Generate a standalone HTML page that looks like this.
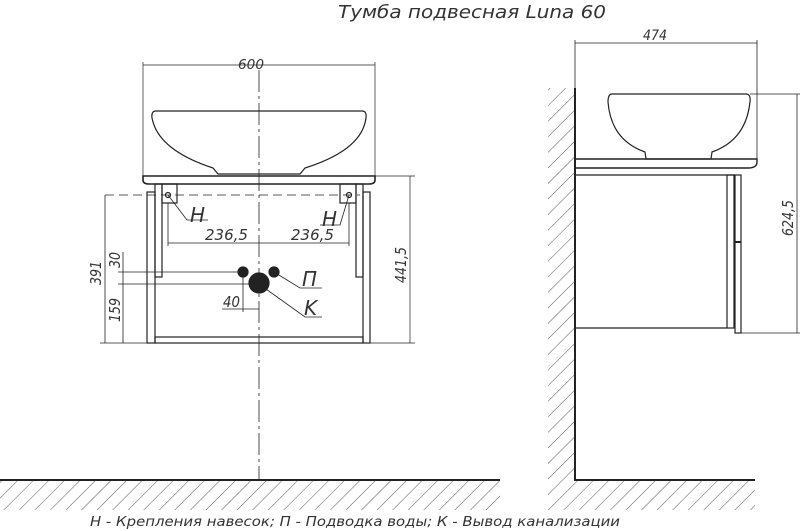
<!DOCTYPE html>
<html><head><meta charset="utf-8"><style>
html,body{margin:0;padding:0;background:#fff}
svg{display:block}
text{font-family:"DejaVu Sans","Liberation Sans",sans-serif;font-style:italic;fill:#333}
</style></head><body>
<svg width="800" height="531" viewBox="0 0 800 531" xmlns="http://www.w3.org/2000/svg">
<defs>
<pattern id="h" width="11" height="11" patternUnits="userSpaceOnUse" patternTransform="rotate(45)">
<line x1="0" y1="0" x2="0" y2="11" stroke="#444" stroke-width="0.9"/>
</pattern>
</defs>
<text x="338" y="18" font-size="18" textLength="268" lengthAdjust="spacingAndGlyphs">Тумба подвесная Luna 60</text>

<rect x="0" y="481" width="500" height="29" fill="url(#h)"/>
<rect x="548" y="88" width="27" height="422" fill="url(#h)"/>
<rect x="575" y="481" width="180" height="29" fill="url(#h)"/>
<line x1="0" y1="480" x2="500" y2="480" stroke="#222" stroke-width="2"/>
<polyline points="575,88 575,480 755,480" fill="none" stroke="#222" stroke-width="2"/>

<g stroke="#222" fill="none" stroke-width="1.2">
<line x1="259" y1="70" x2="259" y2="480" stroke-width="0.8" stroke-dasharray="22,4,3,4"/>
<g stroke-width="0.7"><line x1="143" y1="62" x2="143" y2="178"/><line x1="375" y1="62" x2="375" y2="178"/><line x1="143" y1="65" x2="375" y2="65"/>
<line x1="375" y1="176" x2="415" y2="176"/><line x1="410" y1="176" x2="410" y2="343"/><line x1="370" y1="343" x2="415" y2="343"/></g>
<path d="M156,111 L362,111 Q367,111 366,118 Q362,150 305,168 L300,174 L218,174 L213,168 Q158,150 152,118 Q151,111 156,111 Z"/>
<path d="M143,176 L375,176 L375,180 Q375,184 369,184 L149,184 Q143,184 143,180 Z" stroke-width="1.6"/>
<rect x="147" y="192" width="8" height="151"/>
<rect x="363" y="192" width="7" height="151"/>
<rect x="155" y="184" width="7" height="93"/>
<rect x="356" y="184" width="7" height="93"/>
<rect x="155" y="337" width="208" height="6"/>
<rect x="162" y="184" width="15" height="19"/>
<rect x="340" y="184" width="16" height="19"/>
<circle cx="168" cy="195" r="2.5"/><circle cx="349" cy="195" r="2.5"/>
<line x1="105" y1="195" x2="360" y2="195" stroke-width="0.8" stroke-dasharray="9,5"/>
<g stroke-width="0.8">
<polyline points="168,195 187,220 208,220"/>
<polyline points="349,195 340,225 320,225"/>
<line x1="168" y1="203" x2="168" y2="246"/><line x1="349" y1="203" x2="349" y2="246"/>
<line x1="168" y1="243" x2="349" y2="243"/>
<line x1="105" y1="195" x2="105" y2="343"/><line x1="100" y1="343" x2="155" y2="343"/>
<line x1="123" y1="252" x2="123" y2="343"/>
<line x1="118" y1="272" x2="243" y2="272"/><line x1="118" y1="284" x2="259" y2="284"/>
<line x1="243" y1="272" x2="243" y2="312"/>
<line x1="222" y1="309" x2="259" y2="309"/>
<polyline points="274,272 300,288 322,288"/>
<polyline points="259,284 305,317 322,317"/>
<line x1="575" y1="40" x2="575" y2="88"/><line x1="757" y1="40" x2="757" y2="162"/>
<line x1="575" y1="43" x2="757" y2="43"/>
<line x1="750" y1="94" x2="800" y2="94"/><line x1="741" y1="333" x2="800" y2="333"/>
<line x1="797" y1="94" x2="797" y2="333"/>
</g>
<circle cx="243" cy="272" r="5" fill="#222"/>
<circle cx="274" cy="272" r="5" fill="#222"/>
<circle cx="259" cy="283" r="10" fill="#222"/>
<path d="M612,94 L746,94 Q751,94 750,102 Q746,140 712,152 L711,159 L646,159 L645,152 Q611,140 608,102 Q608,94 612,94 Z"/>
<path d="M575,159 L757,159 L757,162 Q757,168 748,168 L575,168" stroke-width="1.4"/>
<line x1="575" y1="175" x2="735" y2="175"/>
<rect x="727" y="175" width="7" height="153"/>
<rect x="735" y="175" width="6" height="158"/>
<line x1="734" y1="242" x2="741" y2="242" stroke-width="2"/>
<line x1="575" y1="328" x2="727" y2="328"/>
</g>

<g font-size="13">
<text x="238" y="69" textLength="26" lengthAdjust="spacingAndGlyphs">600</text>
<text x="643" y="40" font-size="14" textLength="24" lengthAdjust="spacingAndGlyphs">474</text>
<text x="190" y="222" font-size="20">H</text>
<text x="322" y="226" font-size="20">H</text>
<text x="205" y="240" font-size="15" textLength="43" lengthAdjust="spacingAndGlyphs">236,5</text>
<text x="291" y="240" font-size="15" textLength="43" lengthAdjust="spacingAndGlyphs">236,5</text>
<text x="302" y="286" font-size="20">П</text>
<text x="304" y="315" font-size="20">K</text>
<text x="223" y="307" font-size="15" textLength="17" lengthAdjust="spacingAndGlyphs">40</text>
<text transform="translate(101,285) rotate(-90)" font-size="15" textLength="24" lengthAdjust="spacingAndGlyphs">391</text>
<text transform="translate(120,268) rotate(-90)" font-size="15" textLength="16" lengthAdjust="spacingAndGlyphs">30</text>
<text transform="translate(120,322) rotate(-90)" font-size="15" textLength="24" lengthAdjust="spacingAndGlyphs">159</text>
<text transform="translate(406,283) rotate(-90)" font-size="15" textLength="36" lengthAdjust="spacingAndGlyphs">441,5</text>
<text transform="translate(793,236) rotate(-90)" font-size="15" textLength="36" lengthAdjust="spacingAndGlyphs">624,5</text>
<text x="90" y="526" font-size="13" textLength="530" lengthAdjust="spacingAndGlyphs">Н - Крепления навесок; П - Подводка воды; К - Вывод канализации</text>
</g>
</svg>
</body></html>
